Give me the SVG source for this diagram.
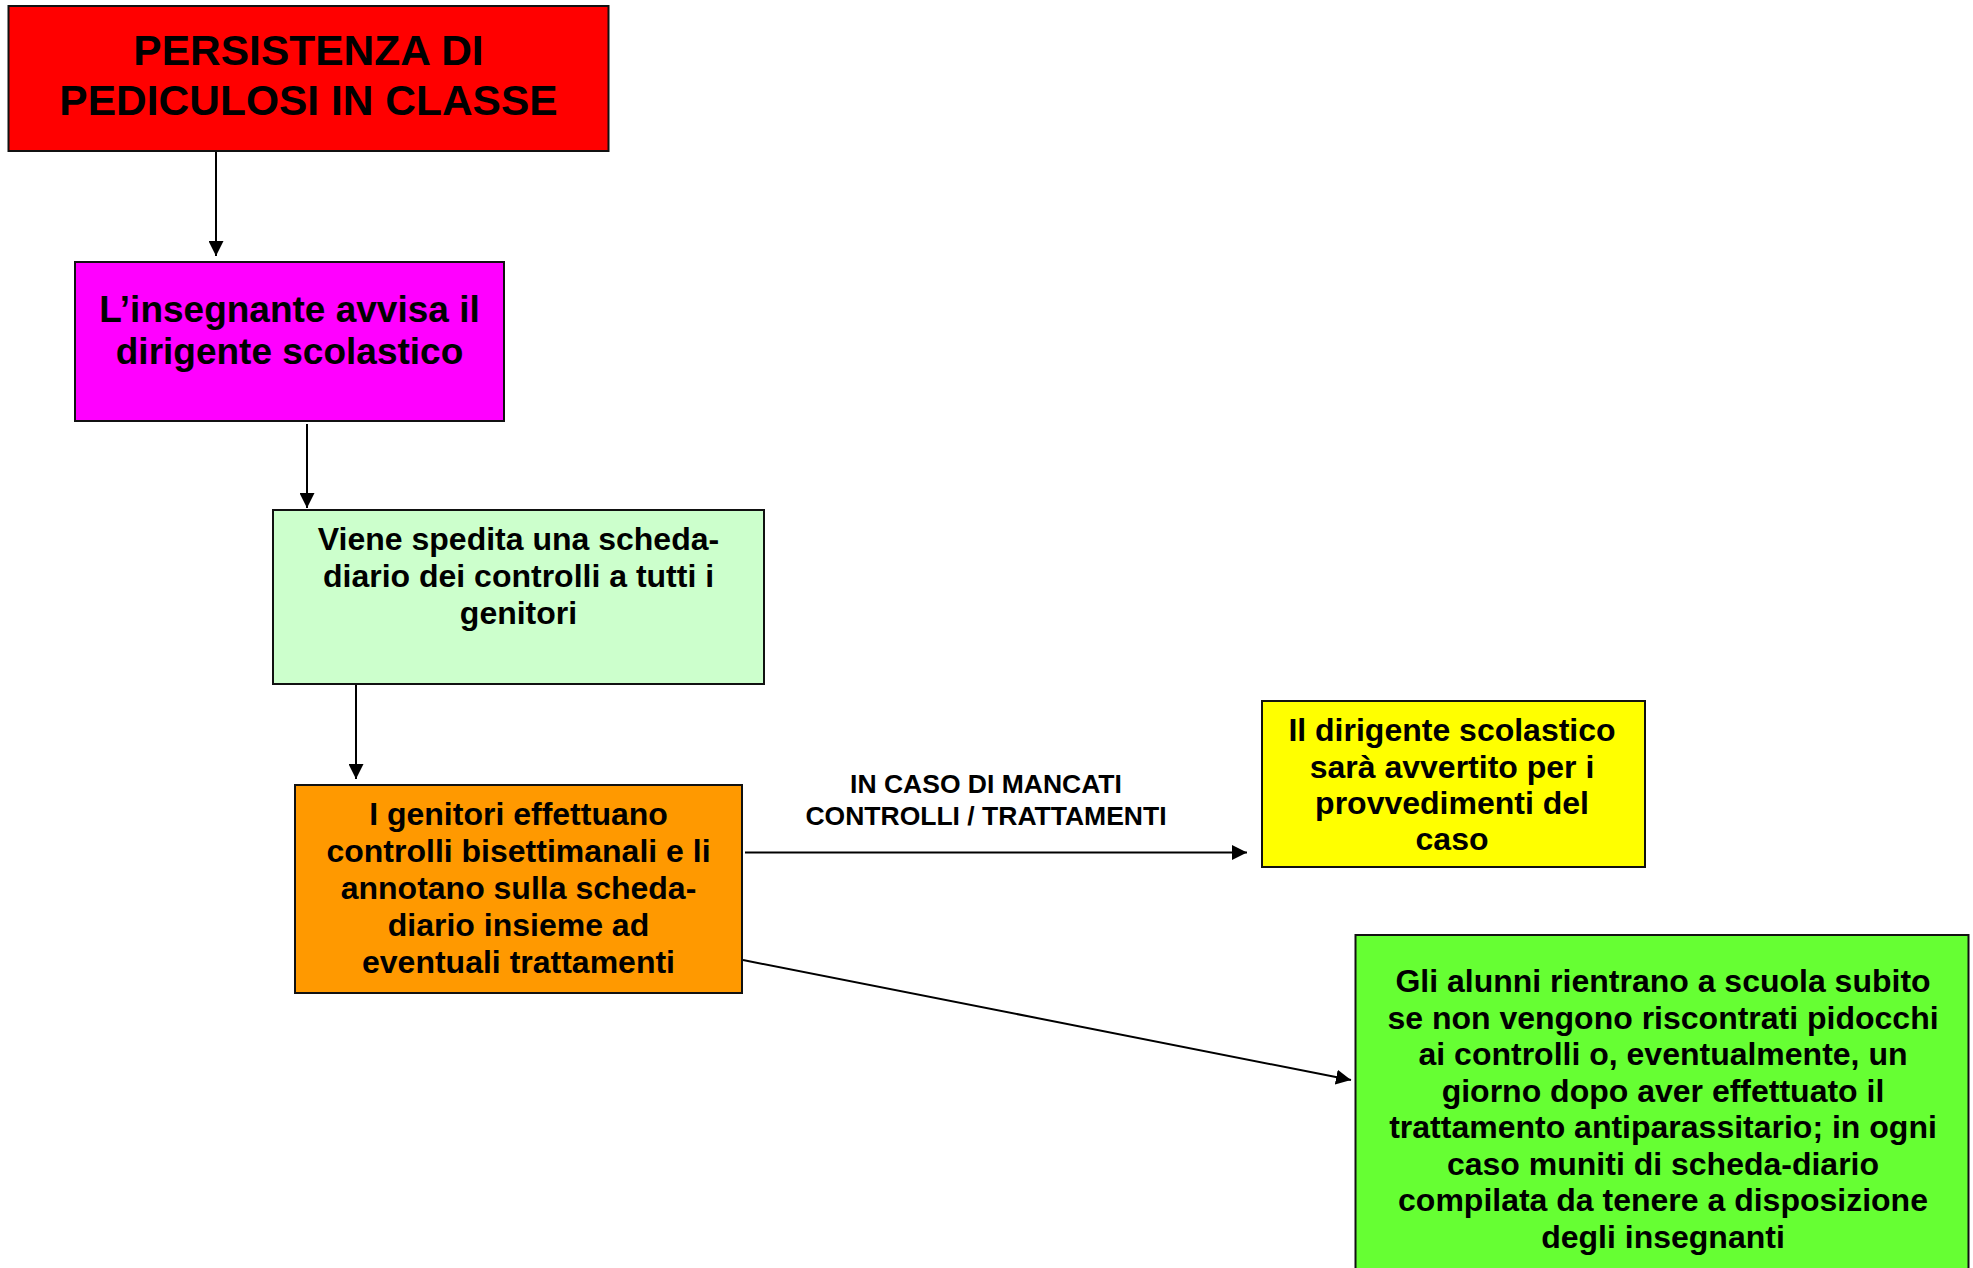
<svg xmlns="http://www.w3.org/2000/svg" width="1973" height="1268" viewBox="0 0 1973 1268">
<style>
.box{stroke:#111;stroke-width:2}
.t{font-family:"Liberation Sans",Arial,sans-serif;font-weight:bold;fill:#000;text-anchor:middle}
.c{stroke:#000;stroke-width:2;fill:none}
</style>
<defs>
<marker id="ah" markerUnits="userSpaceOnUse" markerWidth="15" markerHeight="15" refX="15" refY="7.5" orient="auto">
<path d="M0,0 L15,7.5 L0,15 Z" fill="#000"/>
</marker>
</defs>
<rect width="1973" height="1268" fill="#fff"/>
<g id="connectors">
<line class="c" x1="216" y1="151" x2="216" y2="256" marker-end="url(#ah)"/>
<line class="c" x1="307" y1="424" x2="307" y2="508" marker-end="url(#ah)"/>
<line class="c" x1="356" y1="685" x2="356" y2="779" marker-end="url(#ah)"/>
<line class="c" x1="745" y1="852.5" x2="1247" y2="852.5" marker-end="url(#ah)"/>
<line class="c" x1="743" y1="960" x2="1351" y2="1080" marker-end="url(#ah)"/>
<text class="t" font-size="26.5" x="986" y="793">IN CASO DI MANCATI</text>
<text class="t" font-size="26.5" x="986" y="825">CONTROLLI / TRATTAMENTI</text>
</g>
<g id="n1">
<rect class="box" x="8.5" y="6" width="600" height="145" fill="#FF0000"/>
<text class="t" font-size="42.5" x="308.5" y="65">PERSISTENZA DI</text>
<text class="t" font-size="42.5" x="308.5" y="115">PEDICULOSI IN CLASSE</text>
</g>
<g id="n2">
<rect class="box" x="75" y="262" width="429" height="159" fill="#FF00FF"/>
<text class="t" font-size="37" x="289.5" y="322">L’insegnante avvisa il</text>
<text class="t" font-size="37" x="289.5" y="364">dirigente scolastico</text>
</g>
<g id="n3">
<rect class="box" x="273" y="510" width="491" height="174" fill="#CCFFCC"/>
<text class="t" font-size="32" x="518.5" y="550">Viene spedita una scheda-</text>
<text class="t" font-size="32" x="518.5" y="587">diario dei controlli a tutti i</text>
<text class="t" font-size="32" x="518.5" y="624">genitori</text>
</g>
<g id="n4">
<rect class="box" x="295" y="785" width="447" height="208" fill="#FF9900"/>
<text class="t" font-size="32" x="518.5" y="824.5">I genitori effettuano</text>
<text class="t" font-size="32" x="518.5" y="861.5">controlli bisettimanali e li</text>
<text class="t" font-size="32" x="518.5" y="898.5">annotano sulla scheda-</text>
<text class="t" font-size="32" x="518.5" y="935.5">diario insieme ad</text>
<text class="t" font-size="32" x="518.5" y="972.5">eventuali trattamenti</text>
</g>
<g id="n5">
<rect class="box" x="1262" y="701" width="383" height="166" fill="#FFFF00"/>
<text class="t" font-size="32" x="1452" y="741">Il dirigente scolastico</text>
<text class="t" font-size="32" x="1452" y="777.5">sarà avvertito per i</text>
<text class="t" font-size="32" x="1452" y="814">provvedimenti del</text>
<text class="t" font-size="32" x="1452" y="850">caso</text>
</g>
<g id="n6">
<rect class="box" x="1355.5" y="935" width="613" height="345" fill="#66FF33"/>
<text class="t" font-size="32" x="1663" y="992">Gli alunni rientrano a scuola subito</text>
<text class="t" font-size="32" x="1663" y="1028.5">se non vengono riscontrati pidocchi</text>
<text class="t" font-size="32" x="1663" y="1065">ai controlli o, eventualmente, un</text>
<text class="t" font-size="32" x="1663" y="1101.5">giorno dopo aver effettuato il</text>
<text class="t" font-size="32" x="1663" y="1138">trattamento antiparassitario; in ogni</text>
<text class="t" font-size="32" x="1663" y="1174.5">caso muniti di scheda-diario</text>
<text class="t" font-size="32" x="1663" y="1211">compilata da tenere a disposizione</text>
<text class="t" font-size="32" x="1663" y="1247.5">degli insegnanti</text>
</g>
</svg>
